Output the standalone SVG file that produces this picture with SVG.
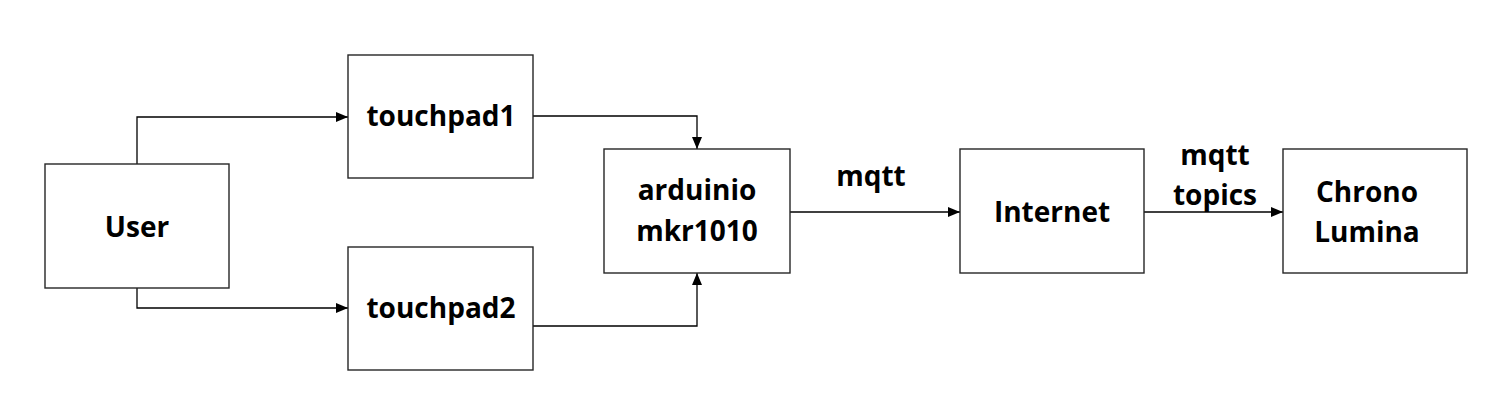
<svg xmlns="http://www.w3.org/2000/svg" width="1498" height="416" viewBox="0 0 1498 416">
<style>
.box{fill:#fff;stroke:#262626;stroke-width:1.4}
.lbl{font-family:"Open Sans","Noto Sans","Liberation Sans",sans-serif;font-weight:bold;font-size:28px;fill:#000;text-anchor:middle}
.con{fill:none;stroke:#000;stroke-width:1.3}
</style>
<defs>
<marker id="arr" markerUnits="userSpaceOnUse" markerWidth="12" markerHeight="10" refX="12" refY="5" orient="auto">
<path d="M0,0 L12,5 L0,10 z" fill="#000"/>
</marker>
</defs>
<rect width="1498" height="416" fill="#fff"/>
<g id="connectors">
<path class="con" d="M137,164 V117 H348" marker-end="url(#arr)"/>
<path class="con" d="M137,288 V308 H348" marker-end="url(#arr)"/>
<path class="con" d="M533,116 H697 V149" marker-end="url(#arr)"/>
<path class="con" d="M533,326 H697 V273" marker-end="url(#arr)"/>
<path class="con" d="M790,212 H960" marker-end="url(#arr)"/>
<path class="con" d="M1144,212 H1283" marker-end="url(#arr)"/>
<text class="lbl" x="871" y="186">mqtt</text>
<text class="lbl" x="1215" y="165">mqtt</text>
<text class="lbl" x="1215" y="205">topics</text>
</g>
<g id="user">
<rect class="box" x="45" y="164" width="184" height="124"/>
<text class="lbl" x="137" y="237">User</text>
</g>
<g id="touchpad1">
<rect class="box" x="348" y="55" width="185" height="123"/>
<text class="lbl" x="441" y="126">touchpad1</text>
</g>
<g id="touchpad2">
<rect class="box" x="348" y="247" width="185" height="123"/>
<text class="lbl" x="441" y="318">touchpad2</text>
</g>
<g id="arduino">
<rect class="box" x="604" y="149" width="186" height="124"/>
<text class="lbl" x="697" y="200">arduinio</text>
<text class="lbl" x="697" y="241">mkr1010</text>
</g>
<g id="internet">
<rect class="box" x="960" y="149" width="184" height="124"/>
<text class="lbl" x="1052" y="222">Internet</text>
</g>
<g id="chrono">
<rect class="box" x="1283" y="149" width="184" height="124"/>
<text class="lbl" x="1367" y="202">Chrono</text>
<text class="lbl" x="1367" y="242">Lumina</text>
</g>
</svg>
